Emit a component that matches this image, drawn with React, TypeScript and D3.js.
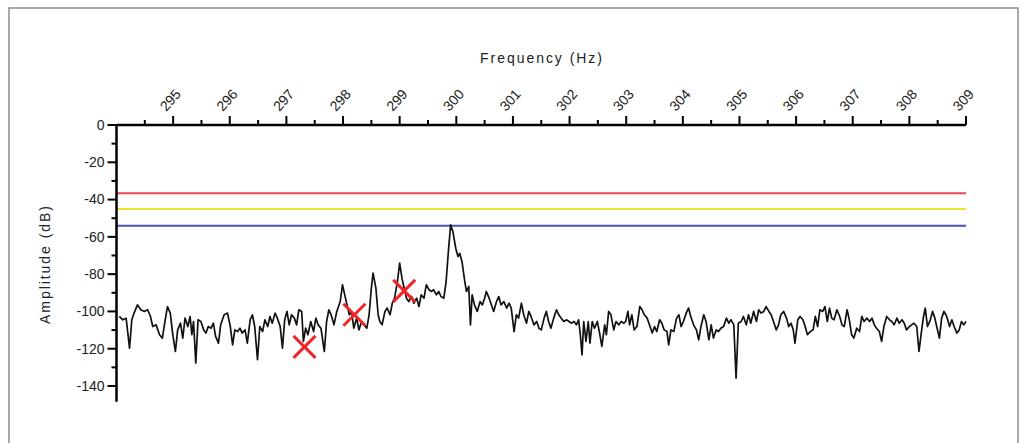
import React from "react";
import * as d3 from "d3";

// tick values
const xMajor = d3.range(295, 310, 1);
const xMinor = d3.range(294.5, 309, 1);
const yMajor = [0, -20, -40, -60, -80, -100, -120, -140];
const yMinor = [-10, -30, -50, -70, -90, -110, -130];

// limit lines (dB)
const limitLevels = [-36.6, -45, -54];
const limitColors = ["#e8474c", "#f0e12e", "#4654b0"];

// red X markers [Hz, dB]
const markers: [number, number][] = [
  [297.32, -119],
  [298.2, -101.8],
  [299.08, -89],
];

// spectrum [Hz, dB]
const spectrum: [number, number][] = [
  [294.05, -102.7], [294.11, -104.5], [294.17, -103.6], [294.23, -119.7], [294.27, -104.5],
  [294.31, -100.9], [294.37, -96.5], [294.43, -99.1], [294.49, -100.0], [294.55, -99.1],
  [294.6, -102.7], [294.64, -108.1], [294.7, -107.2], [294.76, -112.5], [294.81, -114.3],
  [294.86, -104.5], [294.9, -97.4], [294.95, -100.9], [294.99, -111.6], [295.04, -121.5],
  [295.08, -109.9], [295.13, -106.3], [295.17, -114.3], [295.21, -103.6], [295.26, -108.1],
  [295.3, -102.7], [295.33, -112.5], [295.36, -105.4], [295.4, -127.7], [295.44, -104.5],
  [295.49, -105.4], [295.54, -109.9], [295.58, -111.6], [295.62, -108.1], [295.67, -109.0],
  [295.71, -106.3], [295.75, -113.4], [295.8, -117.0], [295.84, -107.2], [295.9, -101.8],
  [295.96, -100.9], [296.01, -108.1], [296.05, -117.9], [296.09, -109.9], [296.14, -110.8],
  [296.18, -109.0], [296.22, -111.6], [296.27, -109.9], [296.31, -117.0], [296.36, -104.5],
  [296.4, -101.8], [296.44, -108.1], [296.49, -125.9], [296.53, -108.1], [296.58, -110.8],
  [296.62, -104.5], [296.67, -108.1], [296.71, -102.7], [296.75, -106.3], [296.8, -100.9],
  [296.84, -103.6], [296.89, -108.1], [296.93, -119.7], [296.97, -104.5],
  [297.01, -100.0], [297.05, -107.2], [297.09, -101.8], [297.14, -103.6], [297.18, -107.2],
  [297.22, -99.1], [297.27, -100.0], [297.3, -116.1], [297.34, -109.0], [297.38, -112.5],
  [297.43, -105.4], [297.48, -110.8], [297.52, -103.6], [297.56, -107.2], [297.61, -109.0],
  [297.67, -121.5], [297.71, -105.4], [297.75, -99.1], [297.79, -101.8], [297.84, -107.2],
  [297.89, -100.0], [297.95, -94.7], [297.99, -85.7], [298.03, -91.1], [298.07, -96.5],
  [298.11, -101.8], [298.15, -100.0], [298.19, -109.0], [298.24, -103.6], [298.28, -109.9],
  [298.33, -105.4], [298.37, -107.2], [298.42, -109.0], [298.46, -101.8], [298.5, -87.5],
  [298.53, -79.5], [298.58, -87.5], [298.62, -101.8], [298.65, -105.4], [298.69, -107.2],
  [298.74, -100.0], [298.78, -98.2], [298.83, -101.8], [298.87, -95.6], [298.91, -92.9],
  [298.96, -84.0], [299.0, -74.1], [299.04, -82.2], [299.08, -87.5], [299.12, -92.9],
  [299.16, -94.7], [299.21, -92.0], [299.25, -95.6], [299.3, -92.9], [299.34, -97.4],
  [299.38, -91.1], [299.43, -92.9], [299.47, -85.7], [299.52, -88.4], [299.56, -89.3],
  [299.6, -88.4], [299.65, -91.1], [299.69, -89.3], [299.73, -92.0], [299.78, -92.9],
  [299.82, -84.0], [299.86, -67.9], [299.9, -53.6], [299.94, -57.2],
  [299.99, -66.1], [300.03, -70.6], [300.06, -68.8], [300.1, -73.2], [300.15, -84.0],
  [300.18, -89.3], [300.22, -86.6], [300.25, -107.2], [300.28, -91.1], [300.32, -96.5],
  [300.37, -100.0], [300.42, -94.7], [300.46, -96.5], [300.5, -92.9], [300.53, -89.3],
  [300.58, -92.9], [300.62, -96.5], [300.66, -100.0], [300.71, -94.7], [300.75, -92.0],
  [300.79, -96.5], [300.84, -94.7], [300.89, -98.2], [300.93, -95.6], [300.97, -98.2],
  [301.02, -110.8], [301.06, -101.8], [301.1, -103.6], [301.15, -95.6], [301.19, -101.8],
  [301.24, -106.3], [301.28, -100.0], [301.32, -102.7], [301.37, -107.2], [301.42, -105.4],
  [301.46, -109.0], [301.5, -109.9], [301.55, -103.6], [301.59, -100.0], [301.63, -105.4],
  [301.67, -109.0], [301.72, -103.6], [301.77, -99.1], [301.81, -101.8], [301.85, -103.6],
  [301.9, -105.4], [301.95, -104.5], [301.99, -105.4], [302.03, -106.3], [302.08, -105.4],
  [302.12, -107.2], [302.16, -104.5], [302.19, -112.5], [302.22, -123.3], [302.25, -105.4],
  [302.29, -116.1], [302.33, -105.4], [302.36, -117.0], [302.4, -105.4], [302.44, -109.0],
  [302.49, -105.4], [302.53, -111.6], [302.57, -118.8], [302.62, -107.2], [302.65, -112.5],
  [302.69, -100.0], [302.73, -101.8], [302.78, -109.9], [302.82, -105.4], [302.87, -107.2],
  [302.91, -105.4], [302.96, -106.3],
  [302.99, -105.4], [303.03, -100.0], [303.06, -107.2], [303.1, -101.8], [303.14, -109.9],
  [303.19, -108.1], [303.24, -97.4], [303.28, -99.1], [303.32, -101.8], [303.37, -103.6],
  [303.41, -107.2], [303.46, -111.6], [303.5, -108.1], [303.54, -110.8], [303.59, -104.5],
  [303.63, -106.3], [303.67, -109.9], [303.72, -110.8], [303.75, -117.9], [303.79, -109.9],
  [303.84, -110.8], [303.89, -103.6], [303.93, -101.8], [303.97, -108.1], [304.01, -105.4],
  [304.06, -100.9], [304.1, -98.2], [304.14, -102.7], [304.19, -107.2], [304.24, -109.9],
  [304.28, -115.2], [304.32, -108.1], [304.37, -101.8], [304.41, -105.4], [304.46, -115.2],
  [304.5, -107.2], [304.54, -114.3], [304.59, -109.9], [304.63, -110.8], [304.67, -109.0],
  [304.72, -108.1], [304.77, -103.6], [304.81, -106.3], [304.85, -104.5], [304.9, -107.2],
  [304.94, -135.8], [304.98, -106.3], [305.03, -105.4], [305.07, -102.7], [305.12, -107.2],
  [305.16, -101.8], [305.2, -106.3], [305.25, -100.0], [305.3, -105.4], [305.34, -99.1],
  [305.38, -100.9], [305.43, -100.0], [305.47, -97.4], [305.52, -100.0], [305.56, -101.8],
  [305.6, -105.4], [305.65, -109.9], [305.69, -107.2], [305.73, -101.8], [305.78, -100.0],
  [305.83, -103.6], [305.87, -108.1], [305.91, -106.3], [305.95, -109.9],
  [305.98, -117.0], [306.03, -104.5], [306.07, -102.7], [306.12, -104.5], [306.16, -108.1],
  [306.2, -112.5], [306.25, -110.8], [306.3, -109.9], [306.34, -102.7], [306.38, -108.1],
  [306.42, -99.1], [306.47, -100.0], [306.51, -97.4], [306.55, -105.4], [306.59, -98.2],
  [306.63, -103.6], [306.67, -104.5], [306.72, -99.1], [306.77, -102.7], [306.81, -107.2],
  [306.85, -108.1], [306.9, -99.1], [306.94, -104.5], [306.98, -112.5], [307.02, -114.3],
  [307.07, -109.0], [307.12, -110.8], [307.16, -102.7], [307.2, -105.4], [307.25, -103.6],
  [307.3, -105.4], [307.34, -103.6], [307.38, -107.2], [307.42, -109.0], [307.47, -110.8],
  [307.51, -116.1], [307.55, -108.1], [307.6, -102.7], [307.65, -104.5], [307.69, -105.4],
  [307.73, -107.2], [307.78, -103.6], [307.82, -106.3], [307.87, -104.5], [307.91, -106.3],
  [307.95, -109.9], [308.0, -108.1], [308.04, -107.2], [308.08, -106.3], [308.13, -108.1],
  [308.17, -121.5], [308.21, -111.6], [308.25, -102.7], [308.28, -98.2], [308.32, -108.1],
  [308.37, -104.5], [308.41, -100.0], [308.45, -103.6], [308.49, -109.0], [308.53, -114.3],
  [308.57, -103.6], [308.61, -100.0], [308.66, -102.7], [308.71, -108.1], [308.75, -104.5],
  [308.79, -108.1], [308.84, -111.6], [308.88, -109.9], [308.92, -105.4], [308.96, -107.2],
  [309.0, -105.4],
];

const W = 1021;
const H = 443;
const font = "'Liberation Sans', Arial, sans-serif";

export default function App() {
  const x = d3.scaleLinear().domain([294, 309]).range([116.5, 966]);
  const y = d3.scaleLinear().domain([0, -140]).range([125, 386]);
  const yEnd = -148.5;

  const line = d3
    .line<[number, number]>()
    .x((d) => x(d[0]))
    .y((d) => y(d[1]));

  const xl = x(294);
  const xr = x(309);
  const arm = 11;

  return (
    <svg
      width={W}
      height={H}
      style={{ position: "absolute", left: 0, top: 0, background: "#fff" }}
    >
      <rect x={9} y={8} width={1009} height={460} fill="#fff" stroke="#8c8c8c" strokeWidth={1.5} />

      {/* limit lines */}
      {limitLevels.map((v, i) => (
        <line key={i} x1={xl} x2={xr} y1={y(v)} y2={y(v)} stroke={limitColors[i]} strokeWidth={2} />
      ))}

      {/* spectrum */}
      <path d={line(spectrum) || ""} fill="none" stroke="#111" strokeWidth={1.7} strokeLinejoin="round" />

      {/* markers */}
      {markers.map(([f, v], i) => (
        <g key={i} stroke="#f0262a" strokeWidth={3}>
          <line x1={x(f) - arm} x2={x(f) + arm} y1={y(v) - arm} y2={y(v) + arm} />
          <line x1={x(f) - arm} x2={x(f) + arm} y1={y(v) + arm} y2={y(v) - arm} />
        </g>
      ))}

      {/* x axis (top) */}
      <line x1={xl} x2={xr} y1={y(0)} y2={y(0)} stroke="#000" strokeWidth={2.5} />
      {xMajor.map((t) => (
        <line key={t} x1={x(t)} x2={x(t)} y1={y(0)} y2={y(0) - 9} stroke="#000" strokeWidth={2} />
      ))}
      {xMinor.map((t) => (
        <line key={t} x1={x(t)} x2={x(t)} y1={y(0)} y2={y(0) - 5} stroke="#000" strokeWidth={2} />
      ))}
      {xMajor.map((t) => (
        <text
          key={t}
          transform={`translate(${x(t) - 7},${y(0) - 13}) rotate(-48)`}
          fontFamily={font}
          fontSize={14}
          fill="#222"
        >
          {t}
        </text>
      ))}
      <text x={541} y={63} textAnchor="middle" fontFamily={font} fontSize={14} fill="#222" textLength={122}>
        Frequency (Hz)
      </text>

      {/* y axis */}
      <line x1={xl} x2={xl} y1={y(0) - 1} y2={y(yEnd)} stroke="#000" strokeWidth={2.5} />
      {yMajor.map((t) => (
        <line key={t} x1={xl - 9} x2={xl} y1={y(t)} y2={y(t)} stroke="#000" strokeWidth={2} />
      ))}
      {yMinor.map((t) => (
        <line key={t} x1={xl - 5} x2={xl} y1={y(t)} y2={y(t)} stroke="#000" strokeWidth={2} />
      ))}
      {yMajor.map((t) => (
        <text
          key={t}
          x={xl - 12}
          y={y(t)}
          dy="0.35em"
          textAnchor="end"
          fontFamily={font}
          fontSize={14}
          fill="#222"
        >
          {t}
        </text>
      ))}
      <text
        transform={`translate(50,${265}) rotate(-90)`}
        textAnchor="middle"
        fontFamily={font}
        fontSize={14}
        fill="#222"
        textLength={118}
      >
        Amplitude (dB)
      </text>
    </svg>
  );
}
